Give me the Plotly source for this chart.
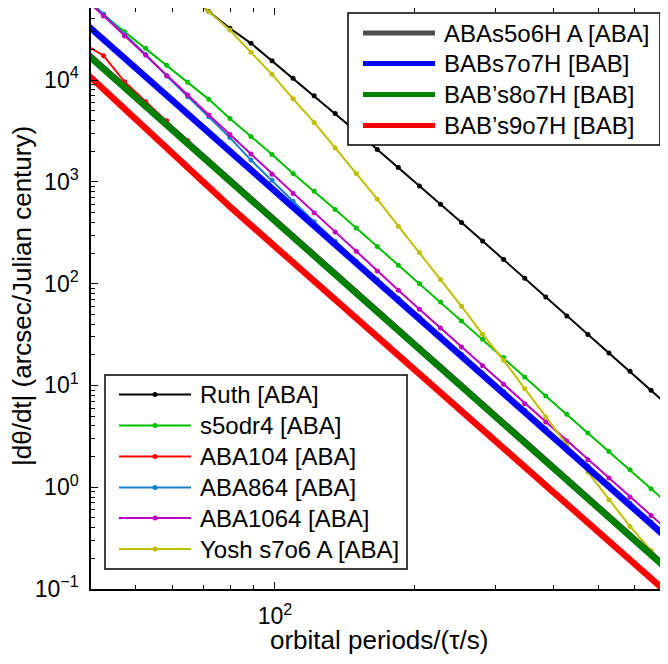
import plotly.graph_objects as go

# ---------------- data ----------------
periods = [38.35, 42.59, 47.30, 52.53, 58.34, 64.79, 71.96, 79.91, 88.75, 98.57,
           109.47, 121.58, 135.02, 149.95, 166.54, 184.95, 205.41, 228.12, 253.35,
           281.37, 312.49, 347.05, 385.43, 428.06, 475.40, 527.98, 586.37, 651.22, 723.24]

ruth = [4.49e5, 3.09e5, 2.125e5, 1.463e5, 1.007e5, 6.90e4, 4.72e4, 3.225e4, 2.296e4, 1.548e4,
        1.039e4, 7008, 4705, 3130, 2083, 1385, 913, 603.6, 398.8, 262.4,
        172.2, 113.0, 73.8, 48.1, 31.6, 20.8, 13.76, 8.95, 5.86]

s5odr4 = [6.40e4, 4.357e4, 2.985e4, 2.050e4, 1.395e4, 9514, 6461, 4202, 2795, 1859,
          1209, 810, 535.3, 352.9, 231.7, 151.7, 100.2, 66.1, 42.99, 28.4,
          18.77, 12.09, 7.87, 5.196, 3.403, 2.249, 1.486, 0.9667, 0.633]

aba104 = [2.311e4, 1.734e4, 9623, 6117, 3979, 2530, 1604, 1051, 688.9, 451.4,
          295.8, 193.8, 126.9, 83.21, 54.53, 35.73, 23.41, 15.34, 10.05, 6.588,
          4.317, 2.828, 1.854, 1.215, 0.7958, 0.5215, 0.3417, 0.2239, 0.1467]

aba864 = [7.01e4, 4.457e4, 2.802e4, 1.781e4, 1.095e4, 6851, 4356, 2720, 1635, 1039,
          646, 406.1, 261.2, 166.2, 109.1, 71.6, 47.0, 30.8, 20.2, 13.27,
          8.71, 5.71, 3.75, 2.46, 1.614, 1.059, 0.695, 0.456, 0.299]

aba1064 = [6.70e4, 4.259e4, 2.708e4, 1.761e4, 1.102e4, 7120, 4528, 2912, 1873, 1190,
           769, 495.7, 322.4, 208.2, 133.3, 86.1, 56.0, 36.7, 23.85, 15.58,
           10.25, 6.62, 4.367, 2.840, 1.864, 1.229, 0.799, 0.528, 0.347]

yosh = [3.343e5, 2.548e5, 1.898e5, 1.382e5, 9.842e4, 6.852e4, 4.695e4, 3.10e4, 1.873e4, 1.138e4,
        6549, 3838, 2154, 1209, 676.0, 366.7, 202.2, 109.7, 59.95, 31.8,
        17.65, 9.301, 4.890, 2.605, 1.408, 0.7536, 0.4117, 0.2391, 0.1453]

abas5o6h = [1.99e4, 1.30e4, 8540, 5600, 3670, 2405, 1575, 1032, 676.5, 443.2,
            290.5, 190.3, 124.7, 81.7, 53.6, 35.1, 23.0, 15.07, 9.87, 6.47,
            4.24, 2.778, 1.821, 1.193, 0.7816, 0.5122, 0.3356, 0.2199, 0.1441]

babs7o7h = [3.804e4, 2.495e4, 1.637e4, 1.074e4, 7048, 4627, 3035, 1991, 1307, 857.5,
            562.6, 369.2, 242.2, 158.9, 104.3, 68.44, 44.91, 29.46, 19.33, 12.69,
            8.326, 5.462, 3.584, 2.351, 1.543, 1.012, 0.664, 0.436, 0.286]

babs8o7h = [1.959e4, 1.283e4, 8410, 5512, 3612, 2367, 1550, 1016, 665.9, 436.3,
            285.9, 187.3, 122.7, 80.43, 52.71, 34.54, 22.63, 14.83, 9.718, 6.368,
            4.173, 2.734, 1.792, 1.174, 0.7693, 0.5041, 0.3303, 0.2164, 0.1418]

babs9o7h = [1.263e4, 8063, 5152, 3291, 2106, 1345, 867.9, 570.1, 374.5, 245.9,
            161.6, 106.1, 69.66, 45.76, 30.06, 19.74, 12.96, 8.514, 5.593, 3.673,
            2.412, 1.585, 1.040, 0.6833, 0.4488, 0.2948, 0.1936, 0.1272, 0.0835]

y_tick_vals = [0.1, 1, 10, 100, 1000, 10000]
y_tick_text = ["10<sup>\u22121</sup>", "10<sup>0</sup>", "10<sup>1</sup>",
               "10<sup>2</sup>", "10<sup>3</sup>", "10<sup>4</sup>"]
x_tick_vals = [100]
x_tick_text = ["10<sup>2</sup>"]

thin_names = ["Ruth [ABA]", "s5odr4 [ABA]", "ABA104 [ABA]", "ABA864 [ABA]",
              "ABA1064 [ABA]", "Yosh s7o6 A [ABA]"]
thin_series = [ruth, s5odr4, aba104, aba864, aba1064, yosh]
thin_colors = ["#000000", "#00BF00", "#FF0000", "#1580C8", "#BF00BF", "#BFBF00"]

thick_names = ["ABAs5o6H A [ABA]", "BABs7o7H [BAB]", "BAB\u2019s8o7H [BAB]", "BAB\u2019s9o7H [BAB]"]
thick_series = [abas5o6h, babs7o7h, babs8o7h, babs9o7h]
thick_colors = ["#4D4D4D", "#0000FF", "#007F00", "#FF0000"]

FONT = "Liberation Sans, Arial, Helvetica, sans-serif"

fig = go.Figure()

for name, ys, col in zip(thin_names, thin_series, thin_colors):
    fig.add_trace(go.Scatter(x=periods, y=ys, name=name, mode="lines+markers",
                             line=dict(color=col, width=2),
                             marker=dict(color=col, size=5),
                             showlegend=False))

for name, ys, col in zip(thick_names, thick_series, thick_colors):
    fig.add_trace(go.Scatter(x=periods, y=ys, name=name, mode="lines",
                             line=dict(color=col, width=6.5),
                             showlegend=False))

# ---------------- layout geometry ----------------
# The page places the figure 8 px from the window's top-left corner (default body margin),
# so the figure is 8 px smaller and every page position is shifted by 8 px.
OFF = 8
W, H = 668 - OFF, 664 - OFF
ML, MR, MT, MB = 83, 1, 0, 75
PW, PH = W - ML - MR, H - MT - MB


def px(x):
    return (x - OFF - ML) / PW


def py(y):
    return (H - MB - (y - OFF)) / PH


shapes = []
annotations = []

# top-right legend (thick lines)
shapes.append(dict(type="rect", xref="paper", yref="paper",
                   x0=px(348), x1=px(660), y0=py(145), y1=py(13),
                   line=dict(color="black", width=1.5), fillcolor="white", layer="above"))
rows1 = [33, 63.5, 94.5, 125.5]
for name, col, yy in zip(thick_names, thick_colors, rows1):
    shapes.append(dict(type="line", xref="paper", yref="paper",
                       x0=px(363), x1=px(435), y0=py(yy), y1=py(yy),
                       line=dict(color=col, width=5), layer="above"))
    annotations.append(dict(xref="paper", yref="paper", x=px(442), y=py(yy),
                            text=name, showarrow=False, xanchor="left", yanchor="middle",
                            font=dict(family=FONT, size=24, color="black")))

# bottom-left legend (thin lines with markers)
shapes.append(dict(type="rect", xref="paper", yref="paper",
                   x0=px(105), x1=px(407), y0=py(569), y1=py(375),
                   line=dict(color="black", width=1.5), fillcolor="white", layer="above"))
rows2 = [394.5, 425.5, 456.5, 487.5, 518, 549]
for name, col, yy in zip(thin_names, thin_colors, rows2):
    shapes.append(dict(type="line", xref="paper", yref="paper",
                       x0=px(119), x1=px(191), y0=py(yy), y1=py(yy),
                       line=dict(color=col, width=2), layer="above"))
    shapes.append(dict(type="circle", xref="paper", yref="paper",
                       xsizemode="pixel", ysizemode="pixel",
                       xanchor=px(155), yanchor=py(yy),
                       x0=-2.5, x1=2.5, y0=-2.5, y1=2.5,
                       line=dict(color=col, width=0), fillcolor=col, layer="above"))
    annotations.append(dict(xref="paper", yref="paper", x=px(198), y=py(yy),
                            text=name, showarrow=False, xanchor="left", yanchor="middle",
                            font=dict(family=FONT, size=24, color="black")))

# axis titles
annotations.append(dict(xref="paper", yref="paper", x=px(379), y=py(640),
                        text="orbital periods/(\u03c4/s)", showarrow=False,
                        xanchor="center", yanchor="middle",
                        font=dict(family=FONT, size=26, color="black")))
annotations.append(dict(xref="paper", yref="paper", x=px(22), y=py(296),
                        text="|d\u03b8/dt| (arcsec/Julian century)", showarrow=False,
                        textangle=-90, xanchor="center", yanchor="middle",
                        font=dict(family=FONT, size=26, color="black")))

axis_common = dict(type="log", showline=True, linecolor="black", linewidth=1.5,
                   mirror="ticks", ticks="inside", ticklen=7, tickwidth=1,
                   tickcolor="black", showgrid=False, zeroline=False, automargin=False,
                   tickfont=dict(family=FONT, size=23, color="black"),
                   minor=dict(ticks="inside", ticklen=4, tickwidth=1, tickcolor="black",
                              dtick="D1", showgrid=False))

fig.update_layout(
    width=W, height=H,
    margin=dict(l=ML, r=MR, t=MT, b=MB),
    paper_bgcolor="white", plot_bgcolor="white",
    font=dict(family=FONT, color="black"),
    showlegend=False,
    xaxis=dict(axis_common, range=[1.6021, 2.8482],
               tickmode="array", tickvals=x_tick_vals, ticktext=x_tick_text, ticklabelstandoff=6),
    yaxis=dict(axis_common, range=[-1.0, 4.708],
               tickmode="array", tickvals=y_tick_vals, ticktext=y_tick_text, ticklabelstandoff=6),
    shapes=shapes,
    annotations=annotations,
)

fig.write_html("out.html")
